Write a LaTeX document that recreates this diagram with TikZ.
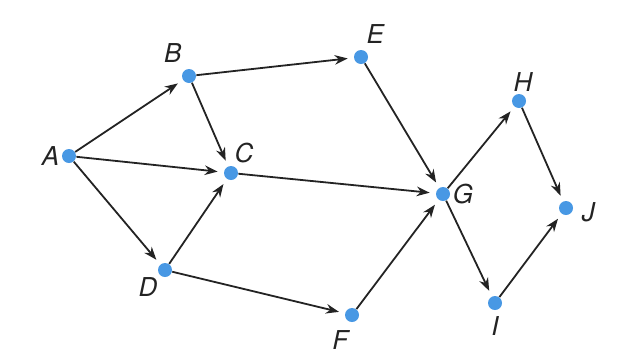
\documentclass[tikz,border=0pt]{standalone}
\usepackage{fontspec}
\setsansfont{TeX Gyre Heros}
\usepackage{tikz}
\usetikzlibrary{arrows.meta}
\definecolor{dotblue}{RGB}{72,152,228}
\definecolor{edgegray}{RGB}{35,35,35}
\tikzset{
  dot/.style={circle,fill=dotblue,inner sep=0pt,minimum size=7pt},
  lab/.style={font=\sffamily\itshape\fontsize{13}{15}\selectfont,text=edgegray,inner sep=1pt},
  edge/.style={draw=edgegray,line width=0.9pt,-{Stealth[length=6.5pt,width=4.8pt]},shorten >=3pt}
}

\begin{document}
\begin{tikzpicture}[x=0.5pt,y=-0.5pt]
\useasboundingbox (0,0) rectangle (632,360);
\node[dot,label={[lab]left:A}] (A) at (69,156) {};
\node[dot,label={[lab,yshift=3pt]above left:B}] (B) at (189,76) {};
\node[dot,label={[lab,xshift=-2pt,yshift=1pt]above right:C}] (C) at (231,173) {};
\node[dot,label={[lab]below left:D}] (D) at (165,270) {};
\node[dot,label={[lab,yshift=3pt,xshift=-1pt]above right:E}] (E) at (361,57) {};
\node[dot,label={[lab,xshift=2pt,yshift=-4pt]below left:F}] (F) at (352,315) {};
\node[dot,label={[lab]right:G}] (G) at (443,194) {};
\node[dot,label={[lab,xshift=2pt]above:H}] (H) at (519,101) {};
\node[dot,label={[lab,yshift=-2pt]below:I}] (I) at (495,303) {};
\node[dot,label={[lab,xshift=3pt,yshift=-2pt]right:J}] (J) at (566,208) {};
% edges
\foreach \a/\b in {A/B,A/C,A/D,B/C,B/E,D/C,D/F,C/G,E/G,F/G,G/H,G/I,H/J,I/J}
  \draw[edge] (\a) -- (\b);
\end{tikzpicture}
\end{document}
